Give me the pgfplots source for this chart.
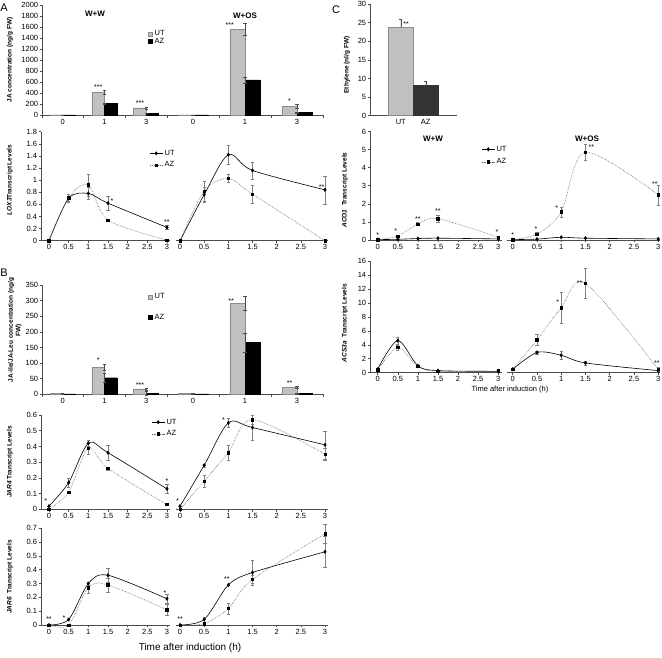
\documentclass[border=0pt]{standalone}
\usepackage{fontspec}
\setmainfont{Liberation Sans}
\usepackage{pgfplots}
\pgfplotsset{compat=1.18}
\definecolor{utgray}{HTML}{C0C0C0}
\definecolor{utedge}{HTML}{8C8C8C}
\definecolor{azdark}{HTML}{333333}
\definecolor{errc}{HTML}{7F7F7F}
\newcommand\tk{\fontsize{7.5}{8}\selectfont}
\newcommand\yl{\bfseries\fontsize{6.5}{7.5}\selectfont}

\pgfplotsset{
  common/.style={scale only axis, anchor=south west, clip=false,
    axis x line*=bottom, axis y line*=left,
    axis line style={black!70, line width=0.5pt, -},
    tick align=outside, major tick length=2.2pt, minor tick length=2.5pt,
    tick style={black!70, line width=0.5pt},
    ticklabel style={font=\tk}, xticklabel style={inner sep=1.5pt}, yticklabel style={inner sep=1.5pt},
    /pgf/number format/assume math mode=true, /pgf/number format/1000 sep={},
    scaled ticks=false, ymin=0,
    legend style={draw=none, fill=none, font=\tk, inner sep=0pt, outer sep=0pt, anchor=north west},
    legend cell align=left},
  noy/.style={axis y line=none, ytick=\empty},
  barx/.style={xmin=-0.5, xmax=2.5, xtick={0,1,2}, xticklabels={0,1,3},
    minor xtick={-0.5,0.5,1.5,2.5}, major x tick style={draw=none}},
  linex/.style={xtick={0,0.5,1,1.5,2,2.5,3}},
  lineL/.style={linex, xmin=-0.203, xmax=3.077, width=129pt},
  lineR/.style={linex, noy, xmin=-0.083, xmax=3.062, width=152pt},
  cL/.style={linex, xmin=-0.19, xmax=3.085, width=131.7pt},
  cR/.style={linex, noy, xmin=-0.124, xmax=3.037, width=153.3pt},
  ut/.style={black, line width=0.6pt, smooth, mark=diamond*, mark size=1.6pt, mark options={solid, fill=black}},
  az/.style={black!60, densely dotted, line width=0.6pt, smooth, mark=square*, mark size=1.2pt, mark options={solid, fill=black, draw=black}},
  eb/.style={error bars/.cd, y dir=both, y explicit,
    error bar style={errc, line width=0.4pt, solid},
    error mark options={errc, rotate=90, mark size=1.6pt, line width=0.4pt, solid}},
  bareb/.style={error bars/.cd, y dir=both, y explicit,
    error bar style={black!70, line width=0.4pt},
    error mark options={black!70, rotate=90, mark size=1.6pt, line width=0.4pt}},
  sqleg/.style={legend image code/.code={\draw[##1] (0pt,-2pt) rectangle (4pt,2pt);}},
  lineleg/.style={legend image code/.code={\draw[mark repeat=2,mark phase=2,##1] plot coordinates {(0pt,0pt)(6pt,0pt)(12pt,0pt)};}},
}
\tikzset{st/.style={font=\fontsize{7}{7}\selectfont, inner sep=0.5pt}}

\begin{document}
\begin{tikzpicture}
\useasboundingbox (0,0) rectangle (662pt,657pt);

% ---------- A: JA bars ----------
\begin{axis}[common, barx, at={(42pt,541.7pt)}, width=125pt, height=110pt,
  ymax=2000, ytick={0,200,400,600,800,1000,1200,1400,1600,1800,2000},
  legend style={at={(0.85,0.79)}, row sep=-3pt}]
\addplot[ybar, bar width=12.5pt, bar shift=-6.25pt, fill=utgray, draw=utedge, sqleg, bareb]
  coordinates {(0,10) +- (0,0) (1,424) +- (0,35) (2,133) +- (0,20)};
\addplot[ybar, bar width=12.5pt, bar shift=6.25pt, fill=black, draw=black, sqleg, bareb]
  coordinates {(0,8) +- (0,0) (1,211) +- (0,8) (2,36) +- (0,5)};
\legend{UT,AZ}
\node[st, anchor=south] at (axis cs:0.85,465) {***};
\node[st, anchor=south] at (axis cs:1.85,158) {***};
\end{axis}
\begin{axis}[common, barx, noy, at={(167pt,541.7pt)}, width=156pt, height=110pt, ymax=2000]
\addplot[ybar, bar width=15pt, bar shift=-7.5pt, fill=utgray, draw=utedge, bareb]
  coordinates {(0,10) +- (0,0) (1,1560) +- (0,110) (2,165) +- (0,40)};
\addplot[ybar, bar width=15pt, bar shift=7.5pt, fill=black, draw=black, bareb]
  coordinates {(0,8) +- (0,0) (1,642) +- (0,50) (2,50) +- (0,5)};
\node[st, anchor=south east] at (axis cs:0.8,1580) {***};
\node[st, anchor=south] at (axis cs:1.856,210) {*};
\end{axis}

% ---------- A: LOX3 ----------
\begin{axis}[common, lineL, at={(41pt,416.3pt)}, height=109pt, ymax=1.8,
  ytick={0,0.2,0.4,0.6,0.8,1,1.2,1.4,1.6,1.8}, lineleg,
  legend style={at={(0.845,0.85)}, row sep=1pt}]
\addplot[ut, eb] coordinates {(0,0) +- (0,0) (0.5,0.70) +- (0,0.07) (1,0.78) +- (0,0.1) (1.5,0.62) +- (0,0.12) (3,0.22) +- (0,0.03)};
\addplot[az, eb] coordinates {(0,0) +- (0,0) (0.5,0.71) +- (0,0.05) (1,0.92) +- (0,0.18) (1.5,0.34) +- (0,0.02) (3,0.01) +- (0,0)};
\legend{UT,AZ}
\node[st, anchor=west] at (axis cs:1.55,0.66) {*};
\node[st, anchor=south] at (axis cs:3,0.25) {**};
\end{axis}
\begin{axis}[common, lineR, at={(176pt,416.3pt)}, height=109pt, ymax=1.8]
\addplot[ut, eb] coordinates {(0,0) +- (0,0) (0.5,0.76) +- (0,0.12) (1,1.42) +- (0,0.16) (1.5,1.16) +- (0,0.14) (3,0.84) +- (0,0.23)};
\addplot[az, eb] coordinates {(0,0) +- (0,0) (0.5,0.82) +- (0,0.17) (1,1.03) +- (0,0.07) (1.5,0.77) +- (0,0.15) (3,0.0) +- (0,0)};
\node[st, anchor=south east] at (axis cs:3,0.84) {**};
\end{axis}

% ---------- B: JA-Ile bars ----------
\begin{axis}[common, barx, at={(42pt,262.7pt)}, width=125pt, height=109.3pt,
  ymax=350, ytick={0,50,100,150,200,250,300,350},
  legend style={at={(0.85,0.94)}, row sep=10pt}]
\addplot[ybar, bar width=12.5pt, bar shift=-6.25pt, fill=utgray, draw=utedge, sqleg, bareb]
  coordinates {(0,2) +- (0,0) (1,87) +- (0,10) (2,17) +- (0,3)};
\addplot[ybar, bar width=12.5pt, bar shift=6.25pt, fill=black, draw=black, sqleg, bareb]
  coordinates {(0,1) +- (0,0) (1,53) +- (0,13) (2,4) +- (0,6)};
\legend{UT,AZ}
\node[st, anchor=south] at (axis cs:0.85,98) {*};
\node[st, anchor=south] at (axis cs:1.85,21) {***};
\end{axis}
\begin{axis}[common, barx, noy, at={(167pt,262.7pt)}, width=156pt, height=109.3pt, ymax=350]
\addplot[ybar, bar width=15pt, bar shift=-7.5pt, fill=utgray, draw=utedge, bareb]
  coordinates {(0,2) +- (0,0) (1,291) +- (0,22) (2,22) +- (0,3)};
\addplot[ybar, bar width=15pt, bar shift=7.5pt, fill=black, draw=black, bareb]
  coordinates {(0,1) +- (0,0) (1,166) +- (0,30) (2,2) +- (0,1)};
\node[st, anchor=south east] at (axis cs:0.8,288) {**};
\node[st, anchor=south] at (axis cs:1.856,26) {**};
\end{axis}

% ---------- B: JAR4 ----------
\begin{axis}[common, lineL, at={(41pt,147.7pt)}, height=94.3pt, ymax=0.6,
  ytick={0,0.1,0.2,0.3,0.4,0.5,0.6}, lineleg,
  legend style={at={(0.86,0.98)}, row sep=1pt}]
\addplot[ut, eb] coordinates {(0,0.02) +- (0,0) (0.5,0.17) +- (0,0.03) (1,0.42) +- (0,0.02) (1.5,0.36) +- (0,0.05) (3,0.13) +- (0,0.03)};
\addplot[az, eb] coordinates {(0,0.0) +- (0,0) (0.5,0.11) +- (0,0) (1,0.39) +- (0,0.04) (1.5,0.26) +- (0,0.01) (3,0.03) +- (0,0)};
\legend{UT,AZ}
\node[st, anchor=south] at (axis cs:-0.08,0.035) {*};
\node[st, anchor=south] at (axis cs:3,0.16) {*};
\end{axis}
\begin{axis}[common, lineR, at={(176pt,147.7pt)}, height=94.3pt, ymax=0.6]
\addplot[ut, eb] coordinates {(0,0.02) +- (0,0) (0.5,0.28) +- (0,0.01) (1,0.55) +- (0,0.03) (1.5,0.52) +- (0,0.08) (3,0.41) +- (0,0.09)};
\addplot[az, eb] coordinates {(0,0.0) +- (0,0) (0.5,0.18) +- (0,0.04) (1,0.36) +- (0,0.05) (1.5,0.57) +- (0,0.03) (3,0.35) +- (0,0.04)};
\node[st, anchor=south] at (axis cs:-0.05,0.035) {*};
\node[st, anchor=south] at (axis cs:0.9,0.55) {*};
\end{axis}

% ---------- B: JAR6 ----------
\begin{axis}[common, lineL, at={(41pt,32pt)}, height=96.7pt, ymax=0.7,
  ytick={0,0.1,0.2,0.3,0.4,0.5,0.6,0.7}]
\addplot[ut, eb] coordinates {(0,0.0) +- (0,0) (0.5,0.04) +- (0,0) (1,0.30) +- (0,0.01) (1.5,0.36) +- (0,0.05) (3,0.19) +- (0,0.03)};
\addplot[az, eb] coordinates {(0,0.0) +- (0,0) (0.5,0.0) +- (0,0) (1,0.27) +- (0,0.04) (1.5,0.29) +- (0,0.05) (3,0.11) +- (0,0.04)};
\node[st, anchor=south] at (axis cs:0,0.02) {**};
\node[st, anchor=south] at (axis cs:0.38,0.03) {*};
\node[st, anchor=south] at (axis cs:2.95,0.21) {*};
\end{axis}
\begin{axis}[common, lineR, at={(176pt,32pt)}, height=96.7pt, ymax=0.7]
\addplot[ut, eb] coordinates {(0,0.0) +- (0,0) (0.5,0.04) +- (0,0.02) (1,0.29) +- (0,0) (1.5,0.38) +- (0,0.09) (3,0.53) +- (0,0.11)};
\addplot[az, eb] coordinates {(0,0.0) +- (0,0) (0.5,0.01) +- (0,0) (1,0.12) +- (0,0.04) (1.5,0.33) +- (0,0.03) (3,0.66) +- (0,0.07)};
\node[st, anchor=south] at (axis cs:0,0.02) {**};
\node[st, anchor=south] at (axis cs:0.97,0.31) {**};
\end{axis}

% ---------- C: ethylene ----------
\begin{axis}[common, at={(370pt,541.3pt)}, width=87pt, height=111.7pt,
  xmin=-0.23, xmax=3.25, xtick={1,2}, xticklabels={UT,AZ}, major x tick style={draw=none},
  ymax=30, ytick={0,5,10,15,20,25,30}]
\addplot[ybar, bar width=25pt, bar shift=0pt, fill=utgray, draw=utedge,
  error bars/.cd, y dir=plus, y explicit, error bar style={black!70, line width=0.4pt},
  error mark options={black!70, rotate=90, mark size=1.6pt, line width=0.4pt}]
  coordinates {(1,23.7) +- (0,2.1)};
\addplot[ybar, bar width=25pt, bar shift=0pt, fill=azdark, draw=azdark,
  error bars/.cd, y dir=plus, y explicit, error bar style={black!70, line width=0.4pt},
  error mark options={black!70, rotate=90, mark size=1.6pt, line width=0.4pt}]
  coordinates {(2,8.1) +- (0,1.1)};
\node[st, anchor=west] at (axis cs:1.08,24.6) {**};
\end{axis}

% ---------- C: ACO1 ----------
\begin{axis}[common, cL, at={(370pt,417pt)}, height=108.5pt, ymax=6,
  ytick={0,1,2,3,4,5,6}, lineleg,
  legend style={at={(0.85,0.885)}, row sep=2pt}]
\addplot[ut, eb] coordinates {(0,0.02) +- (0,0) (0.5,0.04) +- (0,0) (1,0.08) +- (0,0) (1.5,0.1) +- (0,0) (3,0.06) +- (0,0)};
\addplot[az, eb] coordinates {(0,0.02) +- (0,0) (0.5,0.22) +- (0,0.05) (1,0.88) +- (0,0.08) (1.5,1.18) +- (0,0.2) (3,0.15) +- (0,0.08)};
\legend{UT,AZ}
\node[st, anchor=south] at (axis cs:0,0.12) {*};
\node[st, anchor=south] at (axis cs:0.45,0.32) {*};
\node[st, anchor=south] at (axis cs:1,1.0) {**};
\node[st, anchor=south] at (axis cs:1.5,1.45) {**};
\node[st, anchor=south] at (axis cs:2.97,0.24) {*};
\end{axis}
\begin{axis}[common, cR, at={(506.7pt,417pt)}, height=108.5pt, ymax=6]
\addplot[ut, eb] coordinates {(0,0.02) +- (0,0) (0.5,0.05) +- (0,0) (1,0.15) +- (0,0) (1.5,0.1) +- (0,0) (3,0.06) +- (0,0)};
\addplot[az, eb] coordinates {(0,0.02) +- (0,0) (0.5,0.33) +- (0,0.08) (1,1.55) +- (0,0.28) (1.5,4.85) +- (0,0.45) (3,2.5) +- (0,0.55)};
\node[st, anchor=south] at (axis cs:0,0.12) {*};
\node[st, anchor=south] at (axis cs:0.48,0.45) {*};
\node[st, anchor=south east] at (axis cs:0.95,1.6) {*};
\node[st, anchor=south west] at (axis cs:1.55,4.95) {**};
\node[st, anchor=south east] at (axis cs:3,2.9) {**};
\end{axis}

% ---------- C: ACS3a ----------
\begin{axis}[common, cL, at={(370pt,284.3pt)}, height=111.7pt, ymax=16,
  ytick={0,2,4,6,8,10,12,14,16}]
\addplot[ut, eb] coordinates {(0,0.5) +- (0,0) (0.5,4.6) +- (0,0.5) (1,1.0) +- (0,0.1) (1.5,0.3) +- (0,0) (3,0.2) +- (0,0)};
\addplot[az, eb] coordinates {(0,0.4) +- (0,0.2) (0.5,3.6) +- (0,0.4) (1,0.9) +- (0,0.1) (1.5,0.2) +- (0,0) (3,0.25) +- (0,0)};
\end{axis}
\begin{axis}[common, cR, at={(506.7pt,284.3pt)}, height=111.7pt, ymax=16]
\addplot[ut, eb] coordinates {(0,0.5) +- (0,0) (0.5,2.9) +- (0,0.2) (1,2.5) +- (0,0.6) (1.5,1.4) +- (0,0.3) (3,0.3) +- (0,0)};
\addplot[az, eb] coordinates {(0,0.5) +- (0,0.2) (0.5,4.7) +- (0,0.8) (1,9.3) +- (0,2.2) (1.5,12.8) +- (0,2.2) (3,0.5) +- (0,0.3)};
\node[st, anchor=south east] at (axis cs:0.97,9.6) {*};
\node[st, anchor=south east] at (axis cs:1.45,12.4) {**};
\node[st, anchor=south] at (axis cs:2.97,0.9) {**};
\end{axis}

% ---------- labels ----------
\node[font=\fontsize{11}{11}\selectfont] at (4pt,649pt) {A};
\node[font=\fontsize{11}{11}\selectfont] at (4pt,384pt) {B};
\node[font=\fontsize{11}{11}\selectfont] at (336pt,647pt) {C};
\node[font=\bfseries\fontsize{8}{8}\selectfont] at (95pt,643pt) {W+W};
\node[font=\bfseries\fontsize{8}{8}\selectfont] at (245pt,641pt) {W+OS};
\node[font=\bfseries\fontsize{8}{8}\selectfont] at (433pt,518pt) {W+W};
\node[font=\bfseries\fontsize{8}{8}\selectfont] at (587pt,518pt) {W+OS};
\node[rotate=90, font=\yl] at (10pt,597pt) {JA concentration (ng/g FW)};
\node[rotate=90, font=\yl] at (10pt,477pt) {\textit{LOX3}Transcript Levels};
\node[rotate=90, font=\yl, align=center] at (15pt,327pt) {JA-Ile/JA-Leu concentration (ng/g\\FW)};
\node[rotate=90, font=\yl] at (10pt,195pt) {\textit{JAR4} Transcript Levels};
\node[rotate=90, font=\yl] at (10pt,80pt) {\textit{JAR6}\ \ Transcript Levels};
\node[rotate=90, font=\yl] at (347pt,592pt) {Ethylene (nl/g FW)};
\node[rotate=90, font=\yl] at (345pt,467pt) {\textit{ACO1}\ \ Transcript Levels};
\node[rotate=90, font=\yl] at (345pt,334pt) {\textit{ACS3a}\ \ Transcript Levels};
\node[font=\fontsize{10}{10}\selectfont] at (190pt,9pt) {Time after induction (h)};
\node[font=\fontsize{7.5}{8}\selectfont] at (510pt,267pt) {Time after induction (h)};
\end{tikzpicture}
\end{document}
